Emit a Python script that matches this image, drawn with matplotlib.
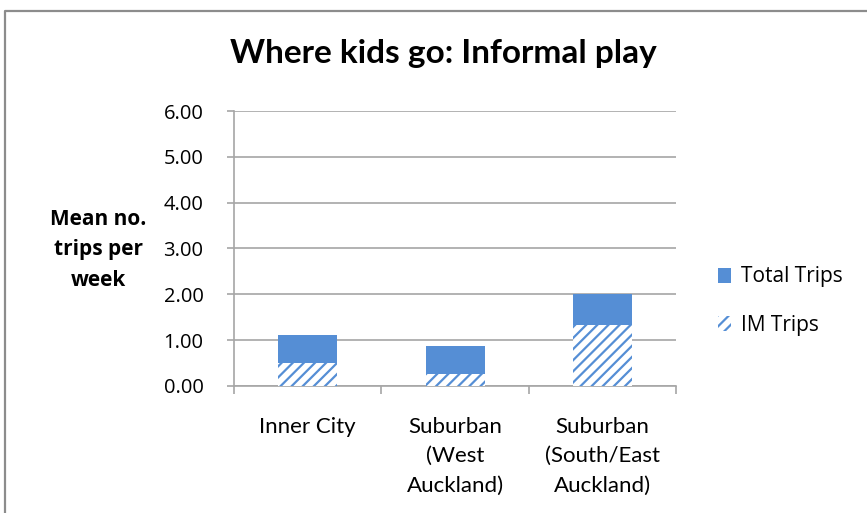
import matplotlib.pyplot as plt
from matplotlib.patches import Patch
from matplotlib.lines import Line2D

categories = ["Inner City", "Suburban\n(West\nAuckland)", "Suburban\n(South/East\nAuckland)"]
total_trips = [1.12, 0.87, 2.01]
im_trips = [0.50, 0.26, 1.32]
y_ticks = [0, 1, 2, 3, 4, 5, 6]

blue = '#558ed5'
grey = '#a6a6a6'
plt.rcParams['font.family'] = ['Lato', 'DejaVu Sans']
plt.rcParams['hatch.linewidth'] = 1.6

fig = plt.figure(figsize=(8.67, 5.13), dpi=100)
ax = fig.add_axes([0.270, 0.2476, 0.510, 0.536])

x = list(range(len(categories)))
ax.bar(x, total_trips, width=0.4, color=blue, linewidth=0, zorder=2)
ax.bar(x, im_trips, width=0.4, facecolor='white', edgecolor=blue, hatch='///', linewidth=0, zorder=3)

ax.set_xlim(-0.5, len(categories) - 0.5)
ax.set_ylim(0, 6)
ax.set_yticks(y_ticks)
ax.set_yticklabels(['%.2f' % v for v in y_ticks], fontsize=14.5, family=['Open Sans', 'DejaVu Sans'])
ax.yaxis.grid(True, color=grey, linewidth=1.2, zorder=0)
ax.set_axisbelow(True)

ax.set_xticks(x)
ax.set_xticklabels(categories, fontsize=16, linespacing=1.6, va='top')
ax.set_xticks([i - 0.5 for i in range(len(categories) + 1)], minor=True)
ax.tick_params(axis='x', which='major', length=0, pad=22)
ax.tick_params(axis='x', which='minor', length=6, color=grey, width=1.2)
ax.tick_params(axis='y', length=5, color=grey, width=1.2, pad=17)

for side in ['top', 'right']:
    ax.spines[side].set_visible(False)
for side in ['left', 'bottom']:
    ax.spines[side].set_color(grey)
    ax.spines[side].set_linewidth(1.2)

fig.text(443 / 867, 1 - 54 / 513, 'Where kids go: Informal play', ha='center', va='center',
         fontsize=24, fontweight='bold')
fig.text(98 / 867, 1 - 250 / 513, 'Mean no.\ntrips per\nweek', ha='center', va='center',
         fontsize=15, fontweight='bold', linespacing=1.6, multialignment='center',
         family=['Open Sans', 'DejaVu Sans'])

handles = [Patch(facecolor=blue, linewidth=0),
           Patch(facecolor='white', edgecolor=blue, hatch='///', linewidth=0)]
fig.legend(handles, ['Total Trips', 'IM Trips'], loc='center left',
           bbox_to_anchor=(0.807, 1 - 301 / 513), frameon=False,
           prop={'family': ['Open Sans', 'DejaVu Sans'], 'size': 15},
           handlelength=0.6, handleheight=0.75, handletextpad=0.5, labelspacing=1.3)

fig.add_artist(Line2D([5 / 867, 5 / 867, 1], [0, 1 - 11 / 513, 1 - 11 / 513],
                      color='#8c8c8c', linewidth=1.6, transform=fig.transFigure))

fig.savefig('out.png', dpi=100)
